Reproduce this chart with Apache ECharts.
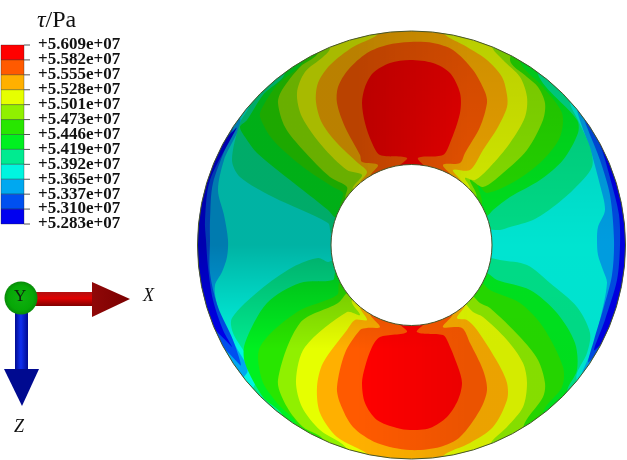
<!DOCTYPE html>
<html><head><meta charset="utf-8">
<style>html,body{margin:0;padding:0;background:#fff}#c{width:627px;height:460px}</style>
<script src="https://cdn.jsdelivr.net/npm/echarts@6/dist/echarts.min.js"></script>
</head><body><div id="c"></div>
<script>
const tickLabels=['+5.609e+07','+5.582e+07','+5.555e+07','+5.528e+07','+5.501e+07','+5.473e+07','+5.446e+07','+5.419e+07','+5.392e+07','+5.365e+07','+5.337e+07','+5.310e+07','+5.283e+07'];
const levelColors=['#ff0000','#ff5a00','#ffb000','#e6ff00','#90f000','#28e600','#00f020','#00eb90','#00f5e0','#00a8f0','#0050f0','#0000f0'];
const redTop=[[397,170],[407,158],[380,155],[372,143],[365,123],[362,103],[365,87],[373,73],[390,63],[410,60],[433,63],[450,73],[460,93],[460,113],[450,143],[443,155],[418,158],[426,170]];
const orangeTop=[[370,178],[378,165],[362,162],[360,155],[345,127],[337,103],[338,87],[348,70],[367,53],[387,45],[410,42],[433,43],[453,50],[473,70],[485,92],[487,103],[480,127],[465,153],[460,163],[443,165],[453,180]];
const amberTop=[[360,185],[367,172],[358,163],[337,143],[322,123],[316,102],[318,83],[330,65],[353,47],[377,35],[385,20],[440,20],[443,33],[467,47],[487,60],[502,77],[507,95],[507,107],[498,127],[483,150],[470,170],[453,170],[462,185]];
const yellowTop=[[353,190],[362,175],[347,170],[323,147],[302,117],[297,93],[305,72],[323,57],[330,48],[320,20],[500,20],[492,46],[503,60],[520,77],[527,97],[525,117],[510,143],[490,167],[475,180],[465,178],[470,190]];
const limeTop=[[346,199],[347,187],[330,177],[303,150],[285,127],[278,103],[282,90],[300,67],[318,52],[300,20],[525,20],[510,60],[527,77],[538,87],[545,103],[543,120],[527,150],[503,173],[483,187],[470,180],[476,198]];
const greenTop=[[341,207],[343,193],[333,187],[303,167],[273,140],[260,117],[262,108],[277,85],[303,60],[285,20],[540,20],[520,60],[543,87],[562,113],[560,137],[543,160],[517,180],[487,193],[478,185],[481,206]];
const brightTop=[[336,218],[328,210],[290,180],[257,153],[245,137],[240,127],[247,120],[263,95],[285,72],[265,20],[560,20],[537,71],[577,120],[578,133],[563,160],[540,180],[510,197],[493,210],[487,216]];
const tealTop=[[332,234],[328,223],[273,197],[240,177],[232,160],[240,123],[250,103],[240,60],[590,60],[570,100],[578,120],[590,147],[592,167],[573,190],[553,207],[533,220],[510,227],[500,230],[491,230]];
const redBottom=[[397,320],[407,332],[380,337],[372,347],[365,367],[362,383],[365,403],[377,420],[397,428],[410,430],[430,428],[447,417],[458,400],[462,383],[458,367],[447,340],[443,335],[417,332],[426,320]];
const orangeBottom=[[370,312],[380,327],[367,328],[360,330],[345,353],[337,387],[340,403],[353,427],[377,443],[410,450],[440,447],[460,437],[480,410],[487,390],[483,370],[470,343],[462,328],[443,327],[453,312]];
const amberBottom=[[360,305],[367,320],[355,320],[347,330],[323,363],[317,387],[320,413],[337,437],[370,456],[370,470],[443,470],[443,456],[470,443],[493,427],[507,400],[507,383],[498,363],[477,330],[467,320],[457,318],[465,303]];
const yellowBottom=[[352,300],[360,315],[347,312],[305,347],[296,380],[302,407],[320,430],[347,449],[340,470],[495,470],[490,445],[507,427],[523,407],[527,383],[523,363],[507,340],[483,317],[473,312],[465,303]];
const limeBottom=[[347,293],[338,303],[300,323],[278,380],[287,407],[303,427],[323,440],[310,470],[530,470],[523,428],[543,397],[545,383],[538,360],[520,337],[490,308],[480,303],[473,296]];
const greenBottom=[[340,282],[337,295],[297,312],[260,347],[262,380],[277,403],[297,426],[280,470],[560,470],[543,414],[562,387],[563,367],[543,327],[520,303],[490,290],[482,283]];
const brightBottom=[[336,272],[333,280],[300,283],[267,303],[245,343],[245,363],[263,397],[283,417],[270,470],[575,470],[567,392],[577,370],[575,343],[557,313],[530,290],[497,280],[487,273]];
const tealBottom=[[333,260],[328,262],[318,258],[293,267],[260,290],[232,318],[233,333],[245,353],[257,377],[250,393],[230,420],[600,420],[577,381],[577,373],[587,353],[590,333],[577,307],[550,283],[527,265],[500,260],[491,258]];
const skyLeft=[[240,118],[224,160],[218,190],[224,215],[228,240],[227,257],[222,272],[215,285],[216,300],[222,320],[235,345],[247,373],[200,400],[150,245],[200,100]];
const azureLeft=[[233,125],[213,183],[210,220],[210,240],[210,273],[218,307],[233,340],[240,365],[150,245]];
const blueLeft=[[236,128],[210,180],[205,220],[206,240],[208,267],[213,300],[223,330],[232,347],[150,245]];
const skyRight=[[578,108],[592,155],[600,185],[605,210],[598,227],[597,240],[598,255],[603,270],[607,283],[600,320],[592,350],[583,372],[680,245]];
const azureRight=[[585,118],[600,160],[610,195],[614,240],[612,275],[603,310],[594,340],[589,362],[680,245]];
const blueRight=[[592,125],[602,150],[612,185],[619,215],[620,245],[617,280],[605,320],[595,350],[680,245]];
const ringCentre=[411.5,245], outerRadius=214, holeRadius=80.5;
const sideLayers=[[skyLeft,9],[skyRight,9],[azureLeft,10],[azureRight,10],[blueLeft,11],[blueRight,11]];
const lobeLayers=[[tealTop,7],[tealBottom,7],[brightTop,6],[brightBottom,6],[greenTop,5],[greenBottom,5],
 [limeTop,4],[limeBottom,4],[yellowTop,3],[yellowBottom,3],[amberTop,2],[amberBottom,2],
 [orangeTop,1],[orangeBottom,1],[redTop,0],[redBottom,0]];
const shadeLeft=[.27,.27,0,0], shadeRight=[.2,.07,.08,.08], shadeStops=[0,.5,.74,1];
const grad=(x,y,x2,y2,stops)=>({type:'linear',x,y,x2,y2,colorStops:stops.map(([o,c])=>({offset:o,color:c}))});
const shade=a=>'rgba(0,0,0,'+a.toFixed(3)+')';
function renderRing(p,api){
  const c=api.coord(ringCentre), k=api.size([1,0])[0];
  const R=outerRadius*k, H=holeRadius*k;
  const kids=[{type:'circle',shape:{cx:c[0],cy:c[1],r:R+2},style:{fill:levelColors[8]}}];
  sideLayers.forEach(([pts,ci])=>kids.push({type:'polygon',shape:{points:pts.map(q=>api.coord(q)),smooth:.3},style:{fill:levelColors[ci]}}));
  lobeLayers.forEach(([pts,ci])=>kids.push({type:'polygon',shape:{points:[...pts,ringCentre].map(q=>api.coord(q)),smooth:.3},style:{fill:levelColors[ci]}}));
  const step=3, left=Math.floor(c[0]-R-3);
  for(let x=left;x<c[0]+R+3;x+=step){
    const t=Math.max(0,Math.min(1,(x-(c[0]-55))/110));
    kids.push({type:'rect',shape:{x:x,y:c[1]-R-3,width:step,height:2*R+6},
      style:{fill:grad(0,0,0,1,shadeStops.map((o,i)=>[o,shade(shadeLeft[i]*(1-t)+shadeRight[i]*t)]))}});
  }
  kids.push({type:'circle',shape:{cx:c[0],cy:c[1],r:R+120},style:{fill:'none',stroke:'#fff',lineWidth:240}});
  kids.push({type:'circle',shape:{cx:c[0],cy:c[1],r:R},style:{fill:'none',stroke:'#47552a',lineWidth:1}});
  kids.push({type:'circle',shape:{cx:c[0],cy:c[1],r:H},style:{fill:'#fff',stroke:'#47552a',lineWidth:1}});
  return {type:'group',children:kids};
}
function renderCell(p,api){
  const i=p.dataIndex, a=api.coord([0,i]), b=api.coord([1,i+1]);
  const kids=[{type:'rect',shape:{x:a[0],y:a[1],width:b[0]-a[0],height:b[1]-a[1]},
    style:{fill:levelColors[i],stroke:'rgba(30,30,30,.55)',lineWidth:.6}},
    {type:'line',shape:{x1:b[0],y1:a[1],x2:b[0]+6,y2:a[1]},style:{stroke:'#555',lineWidth:1}}];
  if(i===levelColors.length-1) kids.push({type:'line',shape:{x1:b[0],y1:b[1],x2:b[0]+6,y2:b[1]},style:{stroke:'#555',lineWidth:1}});
  return {type:'group',children:kids};
}
const serif='"Liberation Serif","Times New Roman",serif';
const chart=echarts.init(document.getElementById('c'),null,{renderer:'canvas'});
chart.setOption({
 animation:false,backgroundColor:'#fff',
 grid:[{left:0,top:0,width:627,height:460,containLabel:false},{left:1,top:45,width:23,height:179,containLabel:false}],
 xAxis:[{type:'value',min:0,max:627,show:false,gridIndex:0},{type:'value',min:0,max:1,show:false,gridIndex:1}],
 yAxis:[{type:'value',min:0,max:460,inverse:true,show:false,gridIndex:0},
  {type:'category',data:tickLabels,boundaryGap:false,inverse:true,position:'right',gridIndex:1,z:20,
   axisLine:{show:false},splitLine:{show:false},axisTick:{show:false},
   axisLabel:{show:true,interval:0,margin:14,color:'#111',fontFamily:serif,fontSize:17,fontWeight:'bold',hideOverlap:false}}],
 series:[
  {type:'custom',xAxisIndex:0,yAxisIndex:0,data:[[0]],clip:false,z:1,silent:true,renderItem:renderRing,encode:{x:0,y:0}},
  {type:'custom',xAxisIndex:1,yAxisIndex:1,data:levelColors.map((c,i)=>[0,i]),clip:false,z:10,silent:true,renderItem:renderCell,encode:{x:0,y:1}}
 ],
 graphic:[
  {type:'text',left:37,top:9,z:100,style:{text:'{t|τ}/Pa',fill:'#111',font:'24px '+serif,rich:{t:{fontStyle:'italic',fontSize:24,fontFamily:serif,fill:'#111'}}}},
  {type:'rect',z:100,shape:{x:35,y:292,width:58,height:14},style:{fill:grad(0,0,0,1,[[0,'#b01010'],[.45,'#e00000'],[1,'#800000']])}},
  {type:'polygon',z:101,shape:{points:[[92,282],[130,299],[92,317]]},style:{fill:grad(0,0,1,0,[[0,'#900808'],[1,'#7a0000']])}},
  {type:'rect',z:100,shape:{x:15,y:312,width:13,height:60},style:{fill:grad(0,0,1,0,[[0,'#000a90'],[.45,'#1030f0'],[1,'#000a90']])}},
  {type:'polygon',z:101,shape:{points:[[4,369],[39,369],[22,406]]},style:{fill:'#000a90'}},
  {type:'circle',z:102,shape:{cx:21,cy:298,r:16.5},style:{fill:{type:'radial',x:.5,y:.5,r:.5,colorStops:[{offset:0,color:'#10b010'},{offset:.75,color:'#06a806'},{offset:1,color:'#0a8a0a'}]}}},
  {type:'text',z:103,left:14,top:288,style:{text:'Y',fill:'#102010',font:'17px '+serif}},
  {type:'text',z:103,left:143,top:287,style:{text:'X',fill:'#111',font:'italic 18px '+serif}},
  {type:'text',z:103,left:14,top:418,style:{text:'Z',fill:'#111',font:'italic 18px '+serif}}
 ]
});
</script></body></html>
